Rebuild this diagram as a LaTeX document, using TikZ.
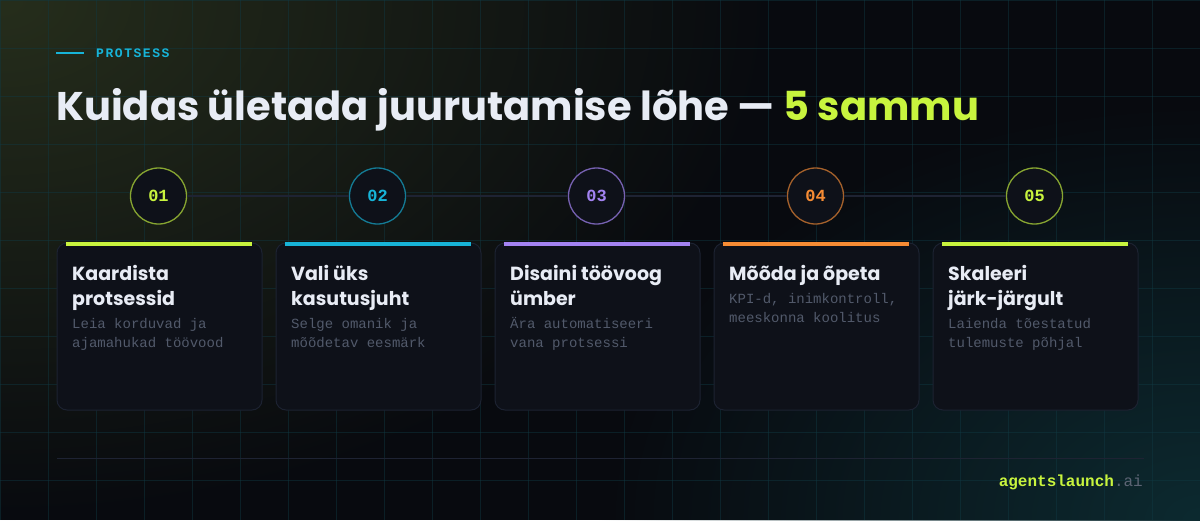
\documentclass[tikz,border=0pt]{standalone}
\usepackage{fontspec}
\usetikzlibrary{fadings}
\newfontfamily\pop{Poppins}
\newfontfamily\mono{Liberation Mono}
\newfontfamily\monols{Liberation Mono}[LetterSpace=12]
\definecolor{bgc}{HTML}{080A0F}
\definecolor{glowg}{HTML}{262E1C}
\definecolor{glowt}{HTML}{0D2A30}
\definecolor{gridc}{HTML}{103A44}
\definecolor{lime}{HTML}{C8F43E}
\definecolor{cyanc}{HTML}{17B4D8}
\definecolor{purp}{HTML}{A383F2}
\definecolor{orng}{HTML}{F68C34}
\definecolor{cardc}{HTML}{0E1119}
\definecolor{cardb}{HTML}{1C2231}
\definecolor{titlec}{HTML}{E8ECF5}
\definecolor{descc}{HTML}{525A6B}
\definecolor{linec}{HTML}{1E2333}
\definecolor{dotai}{HTML}{5C6474}
\tikzfading[name=glowfade, inner color=transparent!0, outer color=transparent!100]
\tikzset{
  cardbox/.style={draw=cardb, fill=cardc, line width=1pt, rounded corners=10pt},
  numcirc/.style={circle, minimum size=56pt, inner sep=0pt, fill=cardc, line width=1.3pt, font=\mono\bfseries\fontsize{17}{17}\selectfont},
  ctitle/.style={anchor=base west, inner sep=0pt, text=titlec, font=\pop\bfseries\fontsize{19}{19}\selectfont},
  cdesc/.style={anchor=base west, inner sep=0pt, text=descc, font=\mono\fontsize{14}{14}\selectfont},
  conn/.style={draw=linec, line width=2pt},
}
\begin{document}
\begin{tikzpicture}[x=1pt,y=-1pt]
\useasboundingbox (0,0) rectangle (1200,520);
\fill[bgc] (0,0) rectangle (1200,520);
\begin{scope}
\clip (0,0) rectangle (1200,520);
\fill[glowg, path fading=glowfade] (0,0) ellipse [x radius=780, y radius=520];
\fill[glowt, path fading=glowfade] (1200,520) ellipse [x radius=600, y radius=420];
\foreach \x in {0,48,...,1200} \draw[gridc, opacity=0.45, line width=1pt] (\x,0) -- (\x,520);
\foreach \y in {0,48,...,520} \draw[gridc, opacity=0.45, line width=1pt] (0,\y) -- (1200,\y);
\end{scope}

% eyebrow
\coordinate (ebA) at (56,53);
\coordinate (ebB) at (84,53);
\draw[cyanc, line width=2pt] (ebA) -- (ebB);
\node[anchor=base west, inner sep=0pt, text=cyanc, font=\monols\bfseries\fontsize{13}{13}\selectfont] (eyebrow) at (96,57.5) {PROTSESS};

% title
\node[anchor=base west, inner sep=0pt, font=\pop\bfseries\fontsize{40}{40}\selectfont] (title) at (56,120) {\textcolor{titlec}{Kuidas ületada juurutamise lõhe — }\textcolor{lime}{5 sammu}};

% cards
\foreach \i/\col in {0/lime,1/cyanc,2/purp,3/orng,4/lime}{
  \pgfmathsetmacro{\L}{57+219*\i}
  \pgfmathsetmacro{\R}{\L+205}
  \draw[cardbox] (\L,243) rectangle (\R,410);
  \fill[\col] (\L+9,242) rectangle (\R-10,246);
}

% circles and connectors
\foreach \i in {1,...,5}{
  \pgfmathsetmacro{\cx}{57+219*(\i-1)+101.5}
  \coordinate (p\i) at (\cx,196);
}
\node[numcirc, draw=lime!65!cardc, text=lime] (c1) at (p1) {01};
\node[numcirc, draw=cyanc!65!cardc, text=cyanc] (c2) at (p2) {02};
\node[numcirc, draw=purp!70!cardc, text=purp] (c3) at (p3) {03};
\node[numcirc, draw=orng!65!cardc, text=orng] (c4) at (p4) {04};
\node[numcirc, draw=lime!65!cardc, text=lime] (c5) at (p5) {05};
\draw[conn] (c1) -- (c2);
\draw[conn] (c2) -- (c3);
\draw[conn] (c3) -- (c4);
\draw[conn] (c4) -- (c5);

% card texts
\node[ctitle] (t1a) at (72,280) {Kaardista};
\node[ctitle] (t1b) at (72,305) {protsessid};
\node[cdesc] (d1a) at (72,328) {Leia korduvad ja};
\node[cdesc] (d1b) at (72,347) {ajamahukad töövood};

\node[ctitle] (t2a) at (291,280) {Vali üks};
\node[ctitle] (t2b) at (291,305) {kasutusjuht};
\node[cdesc] (d2a) at (291,328) {Selge omanik ja};
\node[cdesc] (d2b) at (291,347) {mõõdetav eesmärk};

\node[ctitle] (t3a) at (510,280) {Disaini töövoog};
\node[ctitle] (t3b) at (510,305) {ümber};
\node[cdesc] (d3a) at (510,328) {Ära automatiseeri};
\node[cdesc] (d3b) at (510,347) {vana protsessi};

\node[ctitle] (t4a) at (729,280) {Mõõda ja õpeta};
\node[cdesc] (d4a) at (729,303) {KPI-d, inimkontroll,};
\node[cdesc] (d4b) at (729,322) {meeskonna koolitus};

\node[ctitle] (t5a) at (948,280) {Skaleeri};
\node[ctitle] (t5b) at (948,305) {järk-järgult};
\node[cdesc] (d5a) at (948,328) {Laienda tõestatud};
\node[cdesc] (d5b) at (948,347) {tulemuste põhjal};

% footer
\coordinate (fA) at (57,458.5);
\coordinate (fB) at (1144,458.5);
\draw[linec, line width=1pt] (fA) -- (fB);
\node[anchor=base east, inner sep=0pt, font=\mono\fontsize{16}{16}\selectfont] (brand) at (1143,486) {\textcolor{lime}{\bfseries agentslaunch}\textcolor{dotai}{.ai}};
\end{tikzpicture}
\end{document}
